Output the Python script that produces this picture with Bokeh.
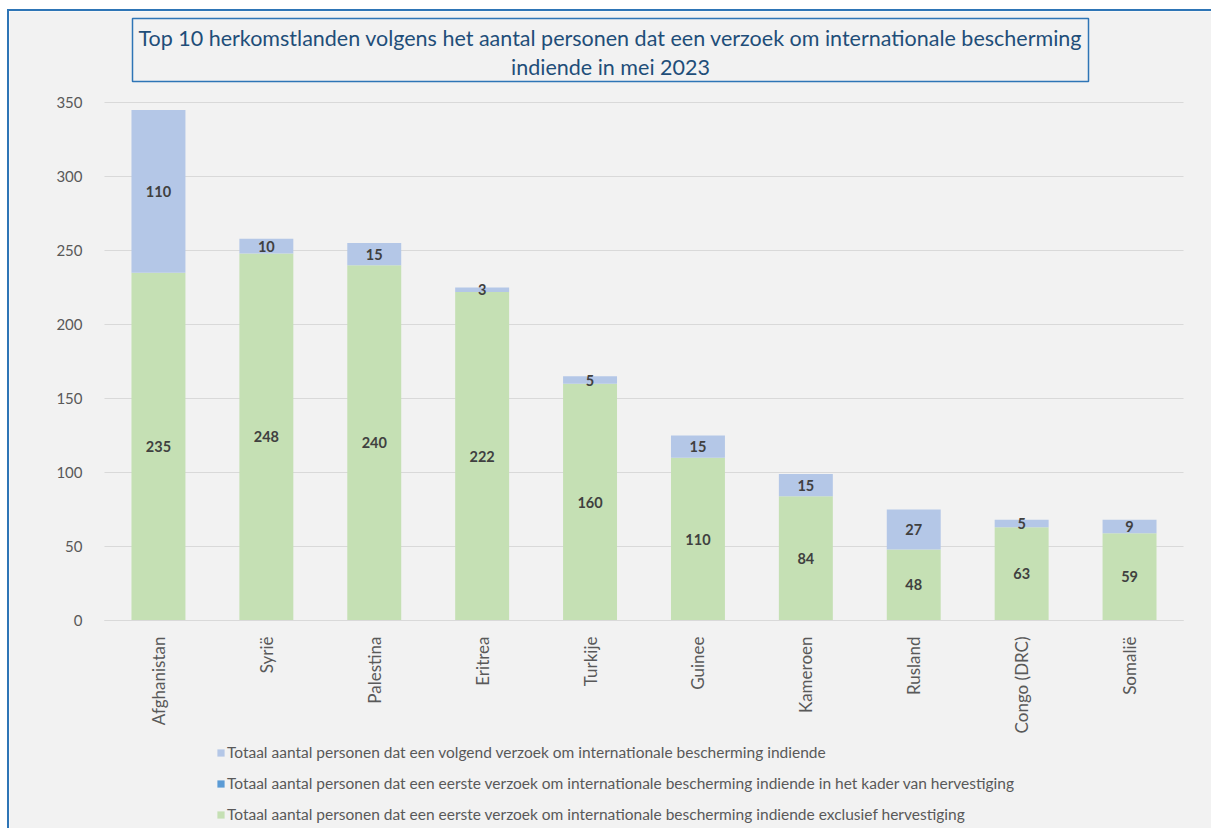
from math import pi
from bokeh.plotting import figure
from bokeh.models import (ColumnDataSource, LabelSet, Label, Legend, LegendItem,
                          FixedTicker, Range1d, LinearAxis, BoxAnnotation)
from bokeh.core.properties import value
from bokeh.embed import file_html
from bokeh.resources import INLINE

countries = ["Afghanistan", "Syrië", "Palestina", "Eritrea", "Turkije",
             "Guinee", "Kameroen", "Rusland", "Congo (DRC)", "Somalië"]
eerste_excl = [235, 248, 240, 222, 160, 110, 84, 48, 63, 59]
eerste_herv = [0, 0, 0, 0, 0, 0, 0, 0, 0, 0]
volgend = [110, 10, 15, 3, 5, 15, 15, 27, 5, 9]
y_ticks = [0, 50, 100, 150, 200, 250, 300, 350]

title_lines = ["Top 10 herkomstlanden volgens het aantal personen dat een verzoek om internationale bescherming",
               "indiende in mei 2023"]
legend_labels = [
    "Totaal aantal personen dat een volgend verzoek om internationale bescherming indiende",
    "Totaal aantal personen dat een eerste verzoek om internationale bescherming indiende in het kader van hervestiging",
    "Totaal aantal personen dat een eerste verzoek om internationale bescherming indiende exclusief hervestiging",
]

FONT = "Lato"
BG = "#f2f2f2"
GREEN = "#c5e0b4"
DARKBLUE = "#5b9bd5"
LIGHTBLUE = "#b4c7e7"
FRAME_BLUE = "#2e75b6"

# layout in page pixels
PAGE_X0, PAGE_Y0 = 9, 11            # canvas origin on the page
W, H = 1204, 819
PLOT_L, PLOT_R, PLOT_T, PLOT_B = 104, 1183, 102, 620
N = len(countries)
YMAX = y_ticks[-1]
CW = (PLOT_R - PLOT_L) / N
PU = (PLOT_B - PLOT_T) / YMAX


def xd(px):
    return (px - PLOT_L) / CW


def yd(py):
    return (PLOT_B - py) / PU


xpos = [i + 0.5 for i in range(N)]

src = ColumnDataSource(dict(
    x=xpos,
    excl=eerste_excl,
    herv=eerste_herv,
    volg=volgend,
    excl_mid=[e / 2 for e in eerste_excl],
    volg_mid=[e + h + v / 2 for e, h, v in zip(eerste_excl, eerste_herv, volgend)],
))

p = figure(x_range=Range1d(xd(PAGE_X0), xd(PAGE_X0 + W)),
           y_range=Range1d(yd(PAGE_Y0 + H), yd(PAGE_Y0)),
           width=W, height=H, output_backend="svg", toolbar_location=None,
           x_axis_location=None, y_axis_location=None, min_border=0)
p.background_fill_color = BG
p.border_fill_color = BG
p.outline_line_color = None
p.xgrid.visible = False
p.ygrid.visible = False
p.styles = {"border-top": "2px solid " + FRAME_BLUE, "border-left": "2px solid " + FRAME_BLUE,
            "margin-left": "7px", "margin-top": "9px"}

# horizontal gridlines at the tick values
p.segment(x0=0, x1=N, y0=y_ticks, y1=y_ticks, line_color="#d9d9d9", line_width=1,
          level="underlay")

rs = p.vbar_stack(["excl", "herv", "volg"], x="x", width=0.5, source=src,
                  color=[GREEN, DARKBLUE, LIGHTBLUE], line_color=None)

# data labels
for col, ycol in (("excl", "excl_mid"), ("volg", "volg_mid")):
    p.add_layout(LabelSet(x="x", y=ycol, text=col, source=src,
                          text_align="center", text_baseline="middle",
                          text_font=value(FONT), text_font_style="bold",
                          text_font_size="14.5px", text_color="#404040"))

# axes (drawn at data positions inside the frame)
yaxis = LinearAxis(fixed_location=0, bounds=(0, YMAX), ticker=FixedTicker(ticks=y_ticks))
yaxis.axis_line_color = None
yaxis.major_tick_line_color = None
yaxis.minor_tick_line_color = None
yaxis.major_label_text_font = FONT
yaxis.major_label_text_font_size = "15px"
yaxis.major_label_text_color = "#595959"
yaxis.major_label_standoff = 16
p.add_layout(yaxis, "left")

xaxis = LinearAxis(fixed_location=0, bounds=(0, N), ticker=FixedTicker(ticks=xpos),
                   major_label_overrides={x: c for x, c in zip(xpos, countries)})
xaxis.axis_line_color = "#d9d9d9"
xaxis.major_tick_line_color = None
xaxis.minor_tick_line_color = None
xaxis.major_label_orientation = pi / 2
xaxis.major_label_text_font = FONT
xaxis.major_label_text_font_size = "17px"
xaxis.major_label_text_color = "#595959"
xaxis.major_label_standoff = 10
p.add_layout(xaxis, "below")

# title box
p.add_layout(BoxAnnotation(left=xd(132), right=xd(1088), top=yd(18), bottom=yd(81),
                           fill_color=None, fill_alpha=0, line_color=FRAME_BLUE,
                           line_alpha=1, line_width=1.5))
for line, py in zip(title_lines, (37, 66)):
    p.add_layout(Label(x=xd(610), y=yd(py), text=line, text_align="center",
                       text_baseline="middle", text_font=FONT,
                       text_font_size="21.5px", text_color="#1f4e79"))

# legend
items = [LegendItem(label=legend_labels[0], renderers=[rs[2]]),
         LegendItem(label=legend_labels[1], renderers=[rs[1]]),
         LegendItem(label=legend_labels[2], renderers=[rs[0]])]
legend = Legend(items=items, location=(216 - PAGE_X0, PAGE_Y0 + H - 824),
                padding=0, margin=0,
                border_line_color=None, background_fill_alpha=0,
                glyph_width=9, glyph_height=9, label_height=20, spacing=11,
                label_standoff=2, label_text_font=FONT, label_text_font_size="15.5px",
                label_text_color="#595959")
p.add_layout(legend, "center")

open("out.html", "w").write(file_html(p, INLINE))
